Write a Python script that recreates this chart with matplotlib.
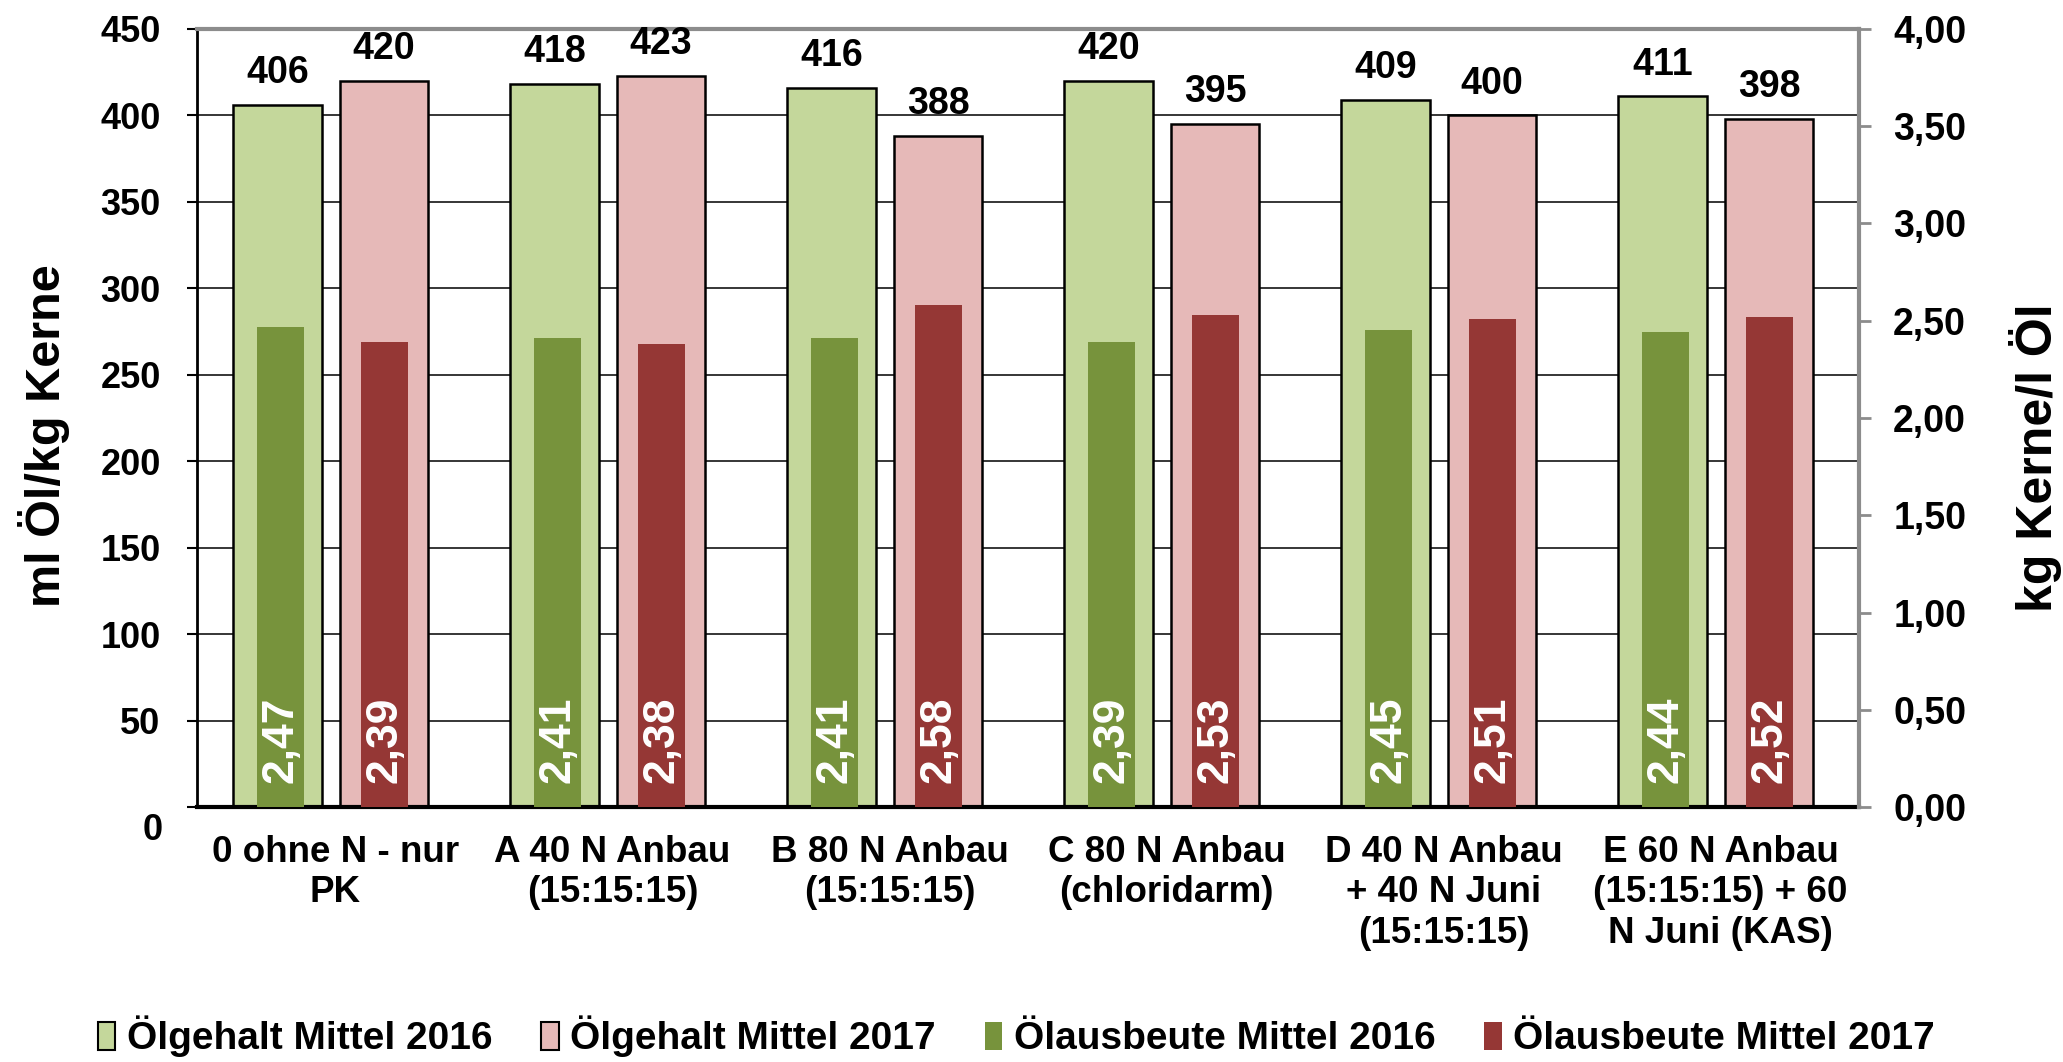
import matplotlib
matplotlib.use('Agg')
import numpy as np
import matplotlib.pyplot as plt
from matplotlib.patches import Patch

# Data
categories = [
    "0 ohne N - nur\nPK",
    "A 40 N Anbau\n(15:15:15)",
    "B 80 N Anbau\n(15:15:15)",
    "C 80 N Anbau\n(chloridarm)",
    "D 40 N Anbau\n+ 40 N Juni\n(15:15:15)",
    "E 60 N Anbau\n(15:15:15) + 60\nN Juni (KAS)",
]
oil_content_2016 = [406, 418, 416, 420, 409, 411]
oil_content_2017 = [420, 423, 388, 395, 400, 398]
oil_yield_2016 = [2.47, 2.41, 2.41, 2.39, 2.45, 2.44]
oil_yield_2017 = [2.39, 2.38, 2.58, 2.53, 2.51, 2.52]
legend_labels = ["Ölgehalt Mittel 2016", "Ölgehalt Mittel 2017",
                 "Ölausbeute Mittel 2016", "Ölausbeute Mittel 2017"]
left_ticks = list(range(0, 451, 50))
right_ticks = [0.0, 0.5, 1.0, 1.5, 2.0, 2.5, 3.0, 3.5, 4.0]

LIGHT_GREEN = '#C4D79B'
PINK = '#E6B9B8'
DARK_GREEN = '#77933C'
DARK_RED = '#953735'
GRAY = '#8C8C8C'


def de(v):
    """Format with German decimal comma."""
    return f"{v:.2f}".replace('.', ',')


plt.rcParams['font.family'] = ['Liberation Sans', 'DejaVu Sans']
plt.rcParams['font.weight'] = 'bold'

fig = plt.figure(figsize=(20.63, 10.62), dpi=100)
ax = fig.add_axes([0.0955, 0.2401, 0.8056, 0.7326])

x = np.arange(len(categories))
outer_w = 0.32
inner_w = 0.17

# Oil content (left axis)
ax.bar(x - 0.21, oil_content_2016, width=outer_w, color=LIGHT_GREEN,
       edgecolor='black', linewidth=1.8, zorder=2)
ax.bar(x + 0.175, oil_content_2017, width=outer_w, color=PINK,
       edgecolor='black', linewidth=1.8, zorder=2)

for xi, v in zip(x, oil_content_2016):
    ax.annotate(str(v), (xi - 0.21, v), xytext=(0, 10), textcoords='offset points',
                ha='center', va='bottom', fontsize=27)
for xi, v in zip(x, oil_content_2017):
    ax.annotate(str(v), (xi + 0.175, v), xytext=(0, 10), textcoords='offset points',
                ha='center', va='bottom', fontsize=27)

ax.set_xlim(-0.5, 5.5)
ax.set_ylim(0, 450)
ax.set_yticks(left_ticks, labels=[''] + [str(t) for t in left_ticks[1:]])
ax.tick_params(axis='y', direction='out', length=7.2, width=1.5, pad=19, labelsize=26)
ax.set_xticks(x, labels=categories)
ax.tick_params(axis='x', length=0, pad=20, labelsize=26.5)
for lbl in ax.get_xticklabels():
    lbl.set_linespacing(1.2)
ax.yaxis.grid(True, color='#262626', linewidth=1.3)
ax.set_axisbelow(True)

ax.spines['top'].set_color(GRAY)
ax.spines['top'].set_linewidth(3)
ax.spines['right'].set_visible(False)
ax.spines['left'].set_linewidth(2)
ax.spines['bottom'].set_linewidth(3)

# lone "0" label sits below the axis in the original
ax.annotate('0', xy=(0, 0), xycoords=('axes fraction', 'data'), xytext=(-25, -17),
            textcoords='offset points', ha='right', va='center', fontsize=26)

# Oil yield (right axis)
ax2 = ax.twinx()
ax2.bar(x - 0.197, oil_yield_2016, width=inner_w, color=DARK_GREEN, zorder=3)
ax2.bar(x + 0.177, oil_yield_2017, width=inner_w, color=DARK_RED, zorder=3)

for xi, v in zip(x, oil_yield_2016):
    ax2.annotate(de(v), (xi - 0.197, 0), xytext=(0, 17), textcoords='offset points',
                 rotation=90, ha='center', va='bottom', color='white', fontsize=32)
for xi, v in zip(x, oil_yield_2017):
    ax2.annotate(de(v), (xi + 0.177, 0), xytext=(0, 17), textcoords='offset points',
                 rotation=90, ha='center', va='bottom', color='white', fontsize=32)

ax2.set_ylim(0, 4)
ax2.set_yticks(right_ticks, labels=[de(t) for t in right_ticks])
ax2.tick_params(axis='y', direction='out', length=8.6, width=2, color=GRAY,
                pad=16, labelsize=27)
for s in ['top', 'left', 'bottom']:
    ax2.spines[s].set_visible(False)
ax2.spines['right'].set_color(GRAY)
ax2.spines['right'].set_linewidth(3)

# Axis titles
fig.text(44 / 2063, 1 - 436 / 1062, 'ml Öl/kg Kerne', rotation=90,
         ha='center', va='center', fontsize=35)
fig.text(2036 / 2063, 1 - 458 / 1062, 'kg Kerne/l Öl', rotation=90,
         ha='center', va='center', fontsize=36)

handles = [
    Patch(facecolor=LIGHT_GREEN, edgecolor='black', linewidth=1.5),
    Patch(facecolor=PINK, edgecolor='black', linewidth=1.5),
    Patch(facecolor=DARK_GREEN),
    Patch(facecolor=DARK_RED),
]
fig.legend(handles, legend_labels, loc='center', bbox_to_anchor=(0.4927, 0.024),
           ncol=4, frameon=False, fontsize=28, handlelength=0.45, handleheight=0.75,
           handletextpad=0.3, columnspacing=1.25)

fig.savefig('out.png', dpi=100)
